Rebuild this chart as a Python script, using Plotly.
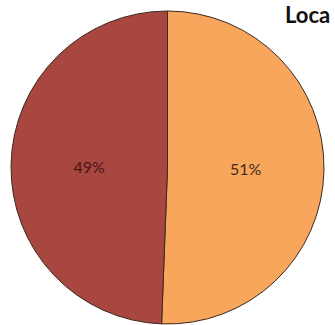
import plotly.graph_objects as go

labels = ["Category A", "Category B"]
values = [50.6, 49.4]
slice_colors = ["#F8A65B", "#A8473F"]
text_colors = ["#3B2A1C", "#4A1414"]
title_text = "Loca"

W, H = 335, 325
cx, cy, r = 167.5, 167.5, 156.5

fig = go.Figure(go.Pie(
    labels=labels,
    values=values,
    textinfo="percent",
    texttemplate="%{percent:.0%}",
    textposition="inside",
    insidetextorientation="horizontal",
    sort=False,
    direction="clockwise",
    rotation=0,
    marker=dict(colors=slice_colors, line=dict(color="#3A2A22", width=1)),
    textfont=dict(family="Lato, Open Sans, sans-serif", size=16, color=text_colors),
    hoverinfo="skip",
    showlegend=False,
    domain=dict(x=[(cx - r) / W, (cx + r) / W], y=[(H - cy - r) / H, (H - cy + r) / H]),
))

fig.add_annotation(
    text="<b>" + title_text + "</b>",
    xref="paper", yref="paper",
    x=284 / W, y=1, xanchor="left", yanchor="top",
    yshift=0, borderpad=0,
    showarrow=False,
    font=dict(family="Lato, Open Sans, sans-serif", size=22, color="#111111"),
)

fig.update_layout(
    width=W, height=H,
    margin=dict(l=0, r=0, t=0, b=0),
    paper_bgcolor="white",
    plot_bgcolor="white",
)

fig.write_html("out.html")
